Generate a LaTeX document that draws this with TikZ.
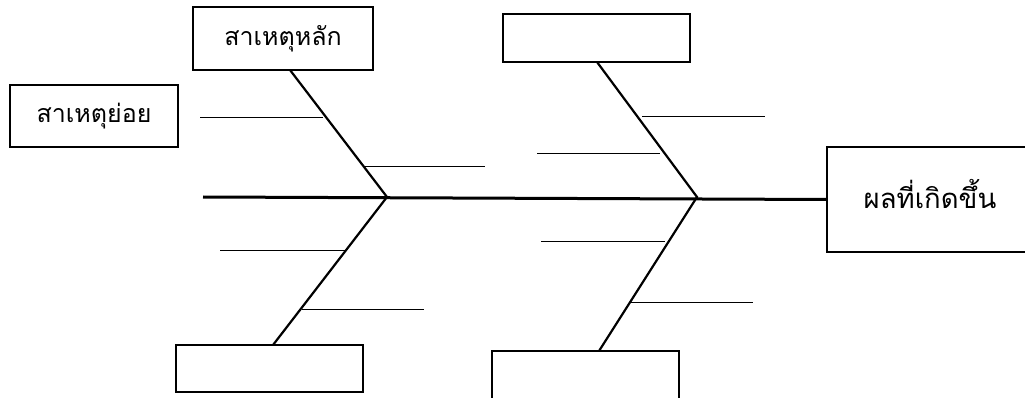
\documentclass[tikz,border=0pt]{standalone}
\usepackage{fontspec}
\newfontfamily\thaifont[Script=Thai]{Loma}
\begin{document}
\begin{tikzpicture}[x=1pt,y=-1pt,
  box/.style={draw=black,line width=2pt,fill=white,inner sep=0pt,font=\thaifont\fontsize{25}{28}\selectfont},
  openbox/.style={inner sep=0pt,font=\thaifont\fontsize{27.5}{30}\selectfont},
  spine/.style={line width=3pt},
  bone/.style={line width=2.2pt},
  twig/.style={line width=1pt}]
\useasboundingbox (0,0) rectangle (1025,398);
\clip (0,0) rectangle (1025,398);
\fill[white] (0,0) rectangle (1025,398);
% boxes
\node[box,minimum width=168pt,minimum height=62pt] (sub) at (94,116) {สาเหตุย่อย};
\node[box,minimum width=180pt,minimum height=63pt] (m1) at (283,38.5) {สาเหตุหลัก};
\node[box,minimum width=187pt,minimum height=48pt] (m2) at (596.5,38) {};
\node[box,minimum width=187pt,minimum height=47pt] (m3) at (269.5,368.5) {};
\node[box,minimum width=187pt,minimum height=52pt] (m4) at (585.5,377) {};
\node[openbox,minimum width=212pt,minimum height=105pt] (eff) at (933,199.5) {};
\draw[line width=2pt] (eff.north east) -- (eff.north west) -- (eff.south west) -- (eff.south east);
\node[openbox] (efftext) at (930,194) {ผลที่เกิดขึ้น};
% junctions
\coordinate (s0) at (203,197);
\coordinate (j1) at (387,197);
\coordinate (j2) at (697,197);
\coordinate (t1) at (290,70);
\coordinate (t2) at (597,62);
\coordinate (b1) at (273,345);
\coordinate (b2) at (599,351);
\draw[spine] (s0) -- (eff.west);
\draw[bone] (t1) -- (j1) -- (b1);
\draw[bone] (t2) -- (j2) -- (b2);
% twigs
\coordinate (a1) at (200,118); \coordinate (a2) at (323,118);
\coordinate (c1) at (363,167); \coordinate (c2) at (485,167);
\coordinate (d1) at (220,250); \coordinate (d2) at (345,250);
\coordinate (e1) at (302,309); \coordinate (e2) at (424,309);
\coordinate (f1) at (642,117); \coordinate (f2) at (765,117);
\coordinate (g1) at (537,154); \coordinate (g2) at (660,154);
\coordinate (h1) at (541,241); \coordinate (h2) at (665,241);
\coordinate (k1) at (630,302); \coordinate (k2) at (753,302);
\draw[twig] (a1) -- (a2);
\draw[twig] (c1) -- (c2);
\draw[twig] (d1) -- (d2);
\draw[twig] (e1) -- (e2);
\draw[twig] (f1) -- (f2);
\draw[twig] (g1) -- (g2);
\draw[twig] (h1) -- (h2);
\draw[twig] (k1) -- (k2);
\end{tikzpicture}
\end{document}
